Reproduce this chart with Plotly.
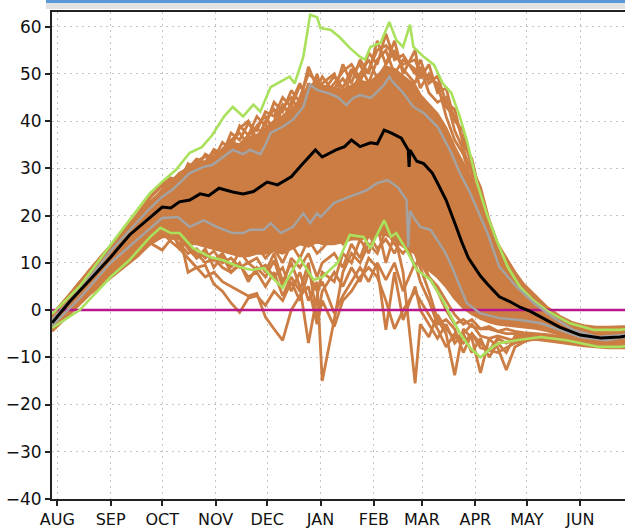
import plotly.graph_objects as go
import pandas as pd

# ---------------- data ----------------
BASE_DATE = "2022-08-01"   # day 0 = 1 Aug

MONTH_LABELS = ["AUG", "SEP", "OCT", "NOV", "DEC", "JAN", "FEB", "MAR", "APR", "MAY", "JUN"]
Y_TICKS = [-40, -30, -20, -10, 0, 10, 20, 30, 40, 50, 60]

# common day grid (days since 1 Aug) for the ensemble members
MEMBER_DAYS = [-3, 5, 12, 19, 26, 33, 40, 47, 54, 61,
               66, 71, 76, 81, 86, 91, 96, 101, 106, 111,
               116, 121, 126, 131, 136, 141, 146, 151, 154, 161,
               166, 171, 176, 181, 186, 191, 196, 201, 208, 211,
               216, 221, 226, 231, 236, 241, 246, 251, 256, 261,
               266, 271, 278, 285, 292, 299, 306, 313, 320, 327,
               331]

# dense part of the ensemble (upper / lower edge of the solid orange band)
CORE_HI = [-1.2, 2, 5, 8, 10.8, 13.6, 16.5, 19.3, 22.6, 25.2,
           26.5, 28, 29.5, 31, 31.5, 32.5, 34, 35.5, 35, 36.5,
           37, 38.5, 40, 41, 42.5, 44, 47.5, 48, 47.5, 47,
           46.5, 47.5, 48.5, 48, 49.5, 51.5, 51, 49.5, 47.5, 45.5,
           43.5, 41.5, 38.5, 34.5, 31, 27.5, 23.5, 19, 14, 10.5,
           7.5, 5, 2.5, 0, -1.8, -3.2, -4.2, -4.7, -4.8, -4.5,
           -4.4]
CORE_LO = [-4, -1.2, 1.4, 3.9, 6, 8, 10, 12, 14.5, 15.5,
           15.5, 15.5, 14, 14, 13.5, 13, 12.5, 12, 11.5, 11.5,
           12, 12, 12.5, 12, 13, 14, 13.5, 14.5, 14, 14,
           14.5, 15, 15, 15.5, 16, 16, 15, 13.5, 12, 10,
           8.5, 7, 5, 2.5, 0.5, -0.8, -1.8, -2.5, -3, -3.2,
           -3.4, -3.6, -3.9, -4.4, -5.2, -6, -6.7, -7.1, -7.3, -7,
           -6.8]

# individual members that stick out of the dense band
MEMBER_U1 = [-1, 2.4, 5.4, 8.6, 11.4, 14.3, 17.3, 20.3, 23.8, 26.3,
             27, 29, 30, 32, 31, 34, 33, 37.5, 36, 39.5,
             38, 42, 41, 45, 43, 47.5, 45, 50, 46, 49.5,
             47, 51, 48, 54.5, 52, 58.5, 53, 54, 50, 53,
             48, 49.5, 44, 42.5, 35, 32, 24, 18, 13, 10.5,
             7.5, 5, 2.5, 0, -1.5, -2.8, -3.5, -3.8, -3.8, -3.7,
             -3.6]
MEMBER_U2 = [-1.2, 2.2, 5.5, 8.4, 11.6, 14.2, 17, 20.5, 24, 26.6,
             28, 27, 31, 30, 33, 32, 35.5, 34, 39, 37,
             41, 39, 44, 42, 46.5, 44, 51.5, 47, 49.4, 46,
             52, 48, 53, 50, 57, 52, 57, 50, 55, 49,
             52, 46, 47, 40, 38, 30, 26, 19, 14, 11,
             8, 5.5, 3, 0.5, -1.3, -2.6, -3.3, -3.6, -3.6, -3.6,
             -3.5]
MEMBER_U3 = [-1.6, 1.8, 4.8, 7.9, 10.8, 13.8, 16.6, 19.2, 22.5, 25.5,
             27.5, 28.5, 28, 31.5, 32.5, 31, 34, 36, 37.5, 35,
             39, 41, 38, 43, 45, 42, 48, 45, 48, 50,
             45, 50, 52, 48, 53, 55, 50, 53, 51, 47,
             50, 47, 43, 41, 36, 31, 24.5, 17.5, 12.5, 9.5,
             7, 4.5, 2, -0.3, -2, -3.2, -4, -4.3, -4.4, -4.2,
             -4.1]
MEMBER_U4 = [-1.3, 2.3, 5.3, 8.5, 11.5, 14.4, 17.4, 20, 23, 25,
             26, 28, 30.5, 29, 31, 33.5, 32, 35, 38.5, 40,
             36, 40, 42.5, 40, 44, 48, 44, 46, 44, 47,
             49, 46, 50, 53, 49, 52, 55, 51, 48, 51.5,
             46, 44, 45, 38, 34, 29, 22, 16.5, 12, 10,
             8, 5.2, 2.6, 0.3, -1.6, -2.9, -3.6, -3.9, -3.9, -3.8,
             -3.7]
MEMBER_U5 = [-1.8, 1.6, 4.6, 7.6, 10.5, 13.2, 16, 18.6, 21.5, 24,
             25, 26.5, 28, 30, 29.5, 31, 33, 32, 35, 37,
             38.5, 37, 40, 43.5, 41, 45, 50, 48.5, 45, 48,
             50.5, 52, 49, 51, 55, 56, 54, 52, 53, 50,
             49, 48, 41, 36, 33, 27, 20, 15, 11.5, 9,
             6.5, 4.2, 1.8, -0.5, -2.2, -3.4, -4.2, -4.5, -4.6, -4.4,
             -4.3]
MEMBER_L1 = [-4.3, -1.4, 1.2, 3.6, 5.7, 7.6, 9.6, 11.6, 14, 15.5,
             16, 14, 12, 13, 11, 12.5, 10, 11, 9, 10,
             8.5, 9.5, 7, 9, 4, 8, 2, 6, -15, -2,
             8, 12, 10, 14, 12, 17, 14, 12, 15, 10,
             7, 4, 0, -3, -2, -3.5, -4, -4, -4.5, -5,
             -5, -5.2, -5.2, -5.5, -6, -6.8, -7.2, -7.5, -7.8, -7.8,
             -7.6]
MEMBER_L2 = [-4.5, -1.6, 1, 3.4, 5.4, 7.4, 9.4, 11.5, 14.2, 12.7,
             15, 15.5, 13, 11, 12, 10.5, 12, 9, 12.5, 10,
             11, 8, 12, 6, 10, 5, -7, 3, 8, 6,
             12, 10, 15, 12, 18, 10, 16, 8, -15.5, -3,
             -5.7, -1, -4, -6, -5, -3, -5.5, -6, -5.5, -6,
             -6.5, -6.2, -6, -6.4, -6.5, -7, -7.4, -7.6, -7.7, -7.6,
             -7.4]
MEMBER_L3 = [-4, -1, 1.6, 4, 6.2, 8.2, 10.2, 12.3, 15, 17,
             18, 17, 16.5, 15, 16, 14, 15, 13, 14.5, 12,
             13.5, 11, 13, 10, 14, 11, 15, 12, 13, 16,
             14, 17, 15, 19, 16, 20, 17, 15, 12, 9,
             4, -2, -5, -13.8, -4, -6, -13.3, -6, -8, -12.7,
             -7.8, -6.8, -5.7, -6, -5.8, -6.5, -7, -7.2, -7.4, -7.3,
             -7.1]
MEMBER_L4 = [-3.8, -0.9, 1.9, 4.3, 6.5, 8.6, 10.6, 12.6, 15.4, 17.4,
             17, 16, 8, 9, 7, 8, 6, 5, 4, 3,
             3.5, -1.5, -4, -6.4, 0, 3, 5, -3, 2, -3.5,
             2, 4, 7, 9, 7, 2, -4, 0, 4, 2,
             -1, -4, -7.8, -5, -7, -5, -8, -8.5, -9, -8,
             -7, -6.5, -6.2, -6.5, -6.8, -7.2, -7.6, -7.8, -8, -8,
             -8]
MEMBER_L5 = [-4.2, -1.3, 1.3, 3.7, 5.8, 7.7, 9.7, 11.8, 14.3, 16.4,
             14.5, 13, 11, 9, 9.5, 5.5, 4, 1.5, -0.5, 2.5,
             3, 1, 4, 2, 6, 2, 8, 4, 6, -0.7,
             3, 6, 9, 6, 10, 6.4, 10, 4, 10, 6,
             2, -3, -2, -4, -9, -5, -7, -8.5, -6, -7,
             -6, -5.8, -5.6, -6, -6.3, -6.8, -7.3, -7.6, -7.8, -7.8,
             -7.6]
MEMBER_L6 = [-3.9, -1, 1.7, 4.1, 6.3, 8.3, 10.3, 12.4, 14.9, 16.8,
             16, 15, 13.5, 12, 10, 11, 9, 8, 9.5, 7,
             8, 5, 8, 3, 7, 4, 10, -2, 4, 8,
             5, 9, 6, 11, 9, -4.2, 8, -2.1, 5, 0,
             -3, -6, -3, -7, -5, -9, -6, -10, -7, -9,
             -5.5, -5.5, -5.8, -6.2, -6.6, -7, -7.4, -7.7, -7.9, -7.9,
             -7.7]
MEMBER_L7 = [-3.6, -0.7, 2.1, 4.5, 6.7, 8.8, 10.9, 13, 15.8, 17.8,
             17.5, 13, 14.5, 11, 13, 9, 11.5, 8, 10, 6,
             9, 7, 10.5, 5, 11, 9, 12, 7, 10, 12,
             9, 14, 11, 16, 13, 15, 12, 16, 9, 12,
             7, 5, 2, -1, -3, -2, -4, -3.5, -4.5, -4,
             -4.5, -4.8, -5, -5.2, -5.6, -6.2, -6.8, -7.2, -7.4, -7.2,
             -7]

# ensemble mean (black)
MEAN_DAYS = [-3, 7, 19, 31, 42, 54, 61, 66, 71, 77, 83, 88, 94, 102, 108, 114, 122, 128,
             136, 142, 146, 150, 154, 158, 162, 167, 171, 176, 182, 186, 190, 194, 200,
             204, 204.5, 205, 209, 213, 218, 221, 226, 231, 235, 239, 246, 250, 257, 263,
             269, 275, 281, 292, 304, 316, 327, 331]
MEAN_VALUES = [-2.7, 1.7, 6.4, 11.2, 15.9, 19.7, 21.8, 21.6, 22.9, 23.3, 24.6, 24.2, 25.8,
               25, 24.6, 25.1, 27.1, 26.5, 28.2, 30.7, 32.2, 33.9, 32.4, 33.2, 33.9, 34.6,
               36, 34.6, 35.4, 35.2, 38.1, 37.5, 36.4, 33.9, 30.3, 33.9, 31.5, 31, 29,
               26.9, 23.3, 18.5, 14.5, 11, 7.2, 5.5, 2.8, 1.8, 0.6, -0.3, -1.5, -3.6,
               -5.3, -5.9, -5.7, -5.5]

# upper / lower grey curves
GREY_HI_DAYS = [-3, 13, 31, 54, 61, 67, 77, 85, 90, 97, 102, 108, 112, 118, 121, 124, 131,
                137, 143, 147, 151, 157, 163, 168, 172, 176, 182, 186, 190, 193, 195, 201,
                207, 213, 221, 229, 234, 240, 250, 257, 267, 277, 288, 300, 314, 327, 331]
GREY_HI_VALUES = [-2, 4.2, 12.5, 21.6, 24, 25.5, 29, 30.3, 30.7, 32.5, 33.9, 33, 33.9, 33,
                  35, 37.5, 38.8, 40.3, 43, 47.7, 46.6, 46, 45.1, 43.4, 44.9, 45.5, 44.9,
                  46.2, 47.7, 49.4, 48.3, 46, 43, 41.7, 38.8, 33.3, 29, 24.8, 16.3, 9.1,
                  4.9, 1.5, -1.5, -4.2, -5.7, -5.3, -5.2]
GREY_LO_DAYS = [-3, 13, 31, 54, 61, 70, 77, 85, 94, 102, 108, 112, 120, 124, 130, 137, 143,
                147, 151, 153, 161, 170, 180, 186, 192, 198, 203, 204, 205, 207, 211, 217,
                222, 225, 229, 234, 238, 246, 257, 269, 281, 292, 304, 319, 327, 331]
GREY_LO_VALUES = [-3.3, 2.5, 10, 17.3, 19.5, 19.7, 17.6, 19, 17.4, 16.3, 16.3, 17, 17, 18.4,
                  16.3, 17.6, 20.5, 18.4, 20.5, 19.7, 22.7, 24, 25.4, 26.9, 27.5, 26, 23.3,
                  13.3, 21, 19.7, 17.6, 17, 14.2, 12.5, 9.5, 5, 1.5, -0.7, -1.7, -2.1, -2.8,
                  -4.2, -5.7, -6.4, -5.9, -5.7]

# upper / lower green curves
GREEN_HI_DAYS = [-3, 13, 31, 42, 54, 62, 69, 77, 84, 90, 97, 102, 108, 114, 118, 124, 131,
                 135, 138, 143, 147, 151, 153, 159, 164, 170, 176, 179, 182, 188, 193, 197,
                 201, 205, 207, 213, 219, 224, 229, 234, 238, 244, 250, 256, 262, 269, 276,
                 284, 298, 312, 327, 331]
GREEN_HI_VALUES = [-0.8, 5, 13.8, 19, 24.8, 27.5, 29.7, 33.3, 34.5, 37, 41, 43, 41, 43.5, 42,
                   47.2, 48.7, 49.4, 48, 53.6, 62.5, 62, 59.7, 59.3, 57.8, 55.5, 53.6, 53,
                   55.7, 56.6, 61, 57.2, 55.7, 60.4, 55.7, 53.6, 51.9, 48, 46, 40.9, 36,
                   26.9, 20, 14.2, 9, 4.9, 2.3, 0, -2.8, -4.2, -4.2, -4]
GREEN_LO_DAYS = [-3, 13, 31, 42, 54, 60, 66, 71, 79, 89, 96, 106, 113, 120, 126, 131, 136,
                 141, 149, 154, 163, 170, 178, 182, 190, 194, 197, 203, 209, 217, 224, 228,
                 234, 240, 246, 253, 257, 267, 281, 296, 315, 327, 331]
GREEN_LO_VALUES = [-3.8, 0, 7, 10.6, 15.5, 17.4, 16.3, 16.3, 13.1, 11.2, 10.6, 9.1, 8.5, 8.9,
                   6.5, 4.7, 8, 11, 6.4, 7, 10, 15.9, 15.5, 13.1, 19, 15.5, 16.3, 12.7, 8.5,
                   6.4, 2.1, -0.7, -4.9, -8, -10, -7.8, -7, -6.4, -5.7, -6.4, -7.8, -7.8, -7.6]

ZERO_LEVEL = 0

# ---------------- styles ----------------
ORANGE = "#cc7d43"
GREEN = "#a9e05c"
GREY = "#a3a3a3"
BLACK = "#000000"
MAGENTA = "#b8168a"
FONT = "DejaVu Sans"

base = pd.Timestamp(BASE_DATE)


def to_dates(days):
    return [base + pd.Timedelta(days=float(d)) for d in days]


fig = go.Figure()
mx = to_dates(MEMBER_DAYS)

# dense band
fig.add_trace(go.Scatter(x=mx, y=CORE_LO, mode="lines",
                         line=dict(color=ORANGE, width=2.8), hoverinfo="skip"))
fig.add_trace(go.Scatter(x=mx, y=CORE_HI, mode="lines", fill="tonexty", fillcolor=ORANGE,
                         line=dict(color=ORANGE, width=2.8), hoverinfo="skip"))

for member in [MEMBER_U1, MEMBER_U2, MEMBER_U3, MEMBER_U4, MEMBER_U5,
               MEMBER_L1, MEMBER_L2, MEMBER_L3, MEMBER_L4, MEMBER_L5,
               MEMBER_L6, MEMBER_L7]:
    fig.add_trace(go.Scatter(x=mx, y=member, mode="lines",
                             line=dict(color=ORANGE, width=2.8), hoverinfo="skip"))

# zero line
fig.add_trace(go.Scatter(x=[mx[0], mx[-1]], y=[ZERO_LEVEL, ZERO_LEVEL], mode="lines",
                         line=dict(color=MAGENTA, width=2.6)))

for days, vals, col, w in [
    (GREEN_HI_DAYS, GREEN_HI_VALUES, GREEN, 2.6),
    (GREEN_LO_DAYS, GREEN_LO_VALUES, GREEN, 2.6),
    (GREY_HI_DAYS, GREY_HI_VALUES, GREY, 2.4),
    (GREY_LO_DAYS, GREY_LO_VALUES, GREY, 2.4),
    (MEAN_DAYS, MEAN_VALUES, BLACK, 3.0),
]:
    fig.add_trace(go.Scatter(x=to_dates(days), y=vals, mode="lines",
                             line=dict(color=col, width=w)))

month_ticks = list(pd.date_range(base, periods=len(MONTH_LABELS), freq="MS"))

fig.update_layout(
    width=625, height=529,
    margin=dict(l=52, r=0, t=12, b=30),
    paper_bgcolor="white", plot_bgcolor="white",
    showlegend=False,
    xaxis=dict(
        type="date",
        range=[base + pd.Timedelta(days=-3.08), base + pd.Timedelta(days=330)],
        tickvals=month_ticks, ticktext=MONTH_LABELS,
        ticks="outside", ticklen=5, tickwidth=1.5, tickcolor="#222",
        showline=True, linewidth=2, linecolor="#222", mirror=True,
        showgrid=True, gridcolor="#c4c4c4", gridwidth=1, griddash="2px,4px",
        zeroline=False,
        tickfont=dict(family=FONT, size=16, color="#111"),
    ),
    yaxis=dict(
        range=[-40, 63.1],
        tickvals=Y_TICKS,
        ticks="outside", ticklen=5, tickwidth=1.5, tickcolor="#222",
        showline=True, linewidth=2, linecolor="#222",
        showgrid=True, gridcolor="#c4c4c4", gridwidth=1, griddash="2px,4px",
        zeroline=False,
        tickfont=dict(family=FONT, size=17, color="#111"),
    ),
    shapes=[
        dict(type="rect", xref="paper", yref="paper", x0=-0.0105, x1=1.0,
             y0=1.0062, y1=1.0185, fillcolor="#e2e2e2", line=dict(width=0), layer="below"),
        dict(type="rect", xref="paper", yref="paper", x0=-0.0105, x1=1.0,
             y0=1.0185, y1=1.03, fillcolor="#5b98d8", line=dict(width=0), layer="below"),
    ],
)

fig.write_html("out.html")
